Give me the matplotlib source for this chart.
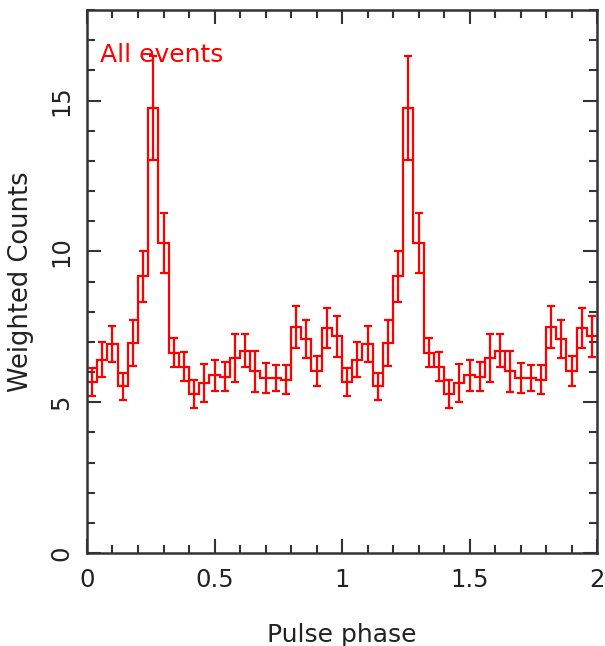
import numpy as np
import matplotlib
matplotlib.use("Agg")
import matplotlib.pyplot as plt
from matplotlib.ticker import MultipleLocator

# pulse profile, 25 phase bins (one cycle)
counts = [5.66, 6.41, 6.93, 5.53, 6.97, 9.17, 14.75, 10.27, 6.64, 6.17,
          5.27, 5.65, 5.89, 5.84, 6.47, 6.70, 6.03, 5.79, 5.80, 5.75,
          7.50, 7.10, 6.04, 7.47, 7.18]
errors = [0.46, 0.59, 0.60, 0.45, 0.77, 0.85, 1.72, 1.00, 0.48, 0.48,
          0.46, 0.63, 0.52, 0.48, 0.79, 0.55, 0.68, 0.50, 0.42, 0.47,
          0.70, 0.62, 0.50, 0.66, 0.69]
n_cycles = 2
label = "All events"

# the profile is shown twice (phase 0-2)
y = np.concatenate([counts] * n_cycles)
dy = np.concatenate([errors] * n_cycles)
nbins = len(y)
edges = np.linspace(0, n_cycles, nbins + 1)
centers = 0.5 * (edges[:-1] + edges[1:])

plt.rcParams['font.family'] = 'DejaVu Sans'
fig = plt.figure(figsize=(6.05, 6.46), dpi=100)
ax = fig.add_axes([87/605, 1 - 553/646, (597 - 87)/605, (553 - 10)/646])

ax.stairs(y, edges, baseline=None, color='#ff0000', linewidth=1.6)
ax.errorbar(centers, y, yerr=dy, fmt='none', ecolor='#ff0000',
            elinewidth=1.6, capsize=3.2, capthick=1.6)

ax.set_xlim(0, 2)
ax.set_ylim(0, 18)
ax.xaxis.set_major_locator(MultipleLocator(0.5))
ax.xaxis.set_minor_locator(MultipleLocator(0.1))
ax.yaxis.set_major_locator(MultipleLocator(5))
ax.yaxis.set_minor_locator(MultipleLocator(1))
ax.set_xticks([0, 0.5, 1, 1.5, 2], ['0', '0.5', '1', '1.5', '2'])

ax.tick_params(which='both', direction='in', top=True, right=True,
               color='#333333', width=1.5)
ax.tick_params(which='major', length=10, labelsize=17.5, labelcolor='#222222')
ax.tick_params(axis='x', which='major', pad=11)
ax.tick_params(axis='y', which='major', pad=10)
ax.tick_params(which='minor', length=6)
for lab in ax.get_yticklabels():
    lab.set_rotation(90)
    lab.set_va('center')
for sp in ax.spines.values():
    sp.set_linewidth(1.8)
    sp.set_color('#333333')

ax.set_xlabel('Pulse phase', fontsize=18, labelpad=22, color='#222222')
ax.set_ylabel('Weighted Counts', fontsize=18.5, labelpad=11, color='#222222')
ax.text(0.025, 0.918, label, transform=ax.transAxes, color='#ff0000',
        fontsize=18, va='center', ha='left')

fig.savefig('out.png', dpi=100)
